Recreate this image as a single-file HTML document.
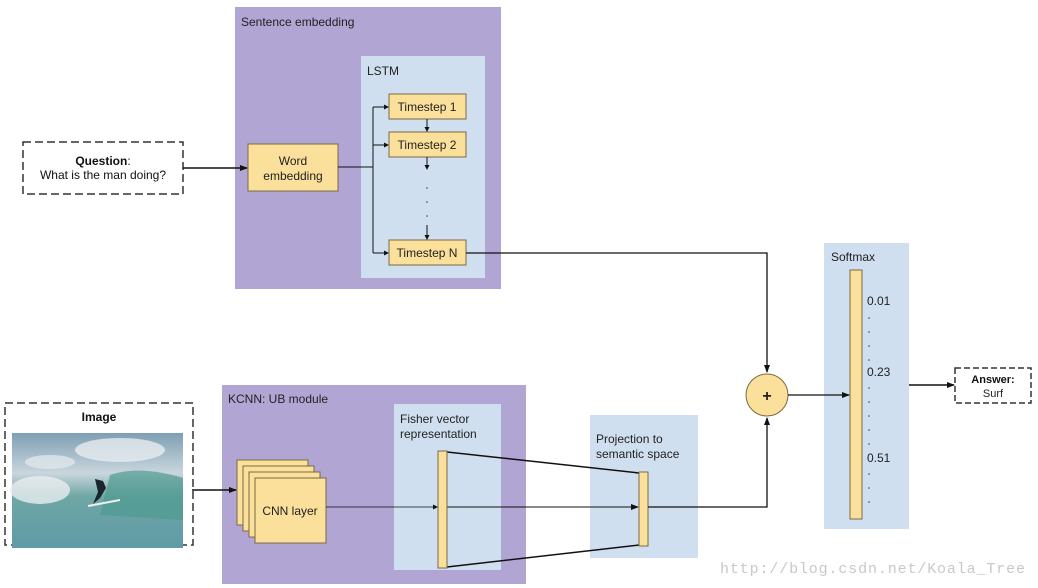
<!DOCTYPE html>
<html><head><meta charset="utf-8"><style>
html,body{margin:0;padding:0;background:#fff;}
svg{display:block;font-family:"Liberation Sans",sans-serif;}
</style></head><body>
<svg width="1038" height="588" viewBox="0 0 1038 588" xmlns="http://www.w3.org/2000/svg">
<defs>
<marker id="a" markerWidth="8" markerHeight="8" refX="7" refY="4" orient="auto" markerUnits="userSpaceOnUse"><path d="M0,1 L8,4 L0,7 z" fill="#111"/></marker>
<marker id="s" markerWidth="5" markerHeight="5" refX="4" refY="2.5" orient="auto" markerUnits="userSpaceOnUse"><path d="M0,0 L5,2.5 L0,5 z" fill="#111"/></marker>
<linearGradient id="sky" x1="0" y1="0" x2="0" y2="1"><stop offset="0" stop-color="#7f9fb4"/><stop offset="0.35" stop-color="#c9d6dd"/><stop offset="0.55" stop-color="#6fa7a5"/><stop offset="1" stop-color="#5f9aa6"/></linearGradient>
</defs>
<rect x="235" y="7" width="266" height="282" fill="#b1a5d3"/>
<text x="241" y="26" font-size="12" fill="#222">Sentence embedding</text>
<rect x="361" y="56" width="124" height="222" fill="#cfdfef"/>
<text x="367" y="75" font-size="12" fill="#222">LSTM</text>
<rect x="23" y="142" width="160" height="52" fill="#fff" stroke="#333" stroke-width="1.5" stroke-dasharray="8,4"/>
<text x="103" y="165" font-size="12" font-weight="bold" text-anchor="middle" fill="#111">Question<tspan font-weight="normal">:</tspan></text>
<text x="103" y="179" font-size="12" text-anchor="middle" fill="#111">What is the man doing?</text>
<line x1="183" y1="168" x2="247" y2="168" stroke="#111" stroke-width="1.5" marker-end="url(#a)"/>
<rect x="248" y="144" width="90" height="47" fill="#fbe09b" stroke="#7a6a40"/>
<text x="293" y="165" font-size="12" text-anchor="middle" fill="#222">Word</text>
<text x="293" y="180" font-size="12" text-anchor="middle" fill="#222">embedding</text>
<path d="M338,167 H373 M373,107 V253" stroke="#111" fill="none"/>
<line x1="373" y1="107" x2="388" y2="107" stroke="#111" marker-end="url(#s)"/>
<line x1="373" y1="145" x2="388" y2="145" stroke="#111" marker-end="url(#s)"/>
<line x1="373" y1="253" x2="388" y2="253" stroke="#111" marker-end="url(#s)"/>
<rect x="389" y="94" width="77" height="25" fill="#fbe09b" stroke="#7a6a40"/>
<text x="427" y="111" font-size="12" text-anchor="middle" fill="#222">Timestep 1</text>
<rect x="389" y="132" width="77" height="25" fill="#fbe09b" stroke="#7a6a40"/>
<text x="427" y="149" font-size="12" text-anchor="middle" fill="#222">Timestep 2</text>
<rect x="389" y="240" width="77" height="25" fill="#fbe09b" stroke="#7a6a40"/>
<text x="427" y="257" font-size="12" text-anchor="middle" fill="#222">Timestep N</text>
<line x1="427" y1="119" x2="427" y2="131" stroke="#111" marker-end="url(#s)"/>
<line x1="427" y1="157" x2="427" y2="169" stroke="#111" marker-end="url(#s)"/>
<line x1="427" y1="225" x2="427" y2="239" stroke="#111" marker-end="url(#s)"/>
<g fill="#444"><circle cx="427" cy="188" r="0.8"/><circle cx="427" cy="202" r="0.8"/><circle cx="427" cy="216" r="0.8"/></g>
<path d="M466,253 H767 V372" stroke="#111" stroke-width="1.3" fill="none" marker-end="url(#a)"/>
<rect x="5" y="403" width="188" height="142" fill="#fff" stroke="#333" stroke-width="1.5" stroke-dasharray="8,4"/>
<text x="99" y="421" font-size="12" font-weight="bold" text-anchor="middle" fill="#111">Image</text>
<rect x="12" y="433" width="171" height="115" fill="url(#sky)"/>
<ellipse cx="120" cy="450" rx="45" ry="12" fill="#e6ecef" opacity="0.8"/>
<ellipse cx="50" cy="462" rx="25" ry="7" fill="#dfe6ea" opacity="0.8"/>
<ellipse cx="40" cy="490" rx="30" ry="14" fill="#e8eef0" opacity="0.8"/>
<path d="M110,475 Q140,465 183,478 L183,520 L100,515 Z" fill="#4f9a92" opacity="0.7"/>
<path d="M95,479 L103,481 L106,488 L100,498 L93,504 L98,492 Z" fill="#1a2530"/>
<line x1="88" y1="506" x2="120" y2="500" stroke="#eee" stroke-width="2"/>
<rect x="222" y="385" width="304" height="199" fill="#b1a5d3"/>
<text x="228" y="403" font-size="12" fill="#222">KCNN: UB module</text>
<rect x="394" y="404" width="107" height="166" fill="#cfdfef"/>
<text x="400" y="423" font-size="12" fill="#222">Fisher vector</text>
<text x="400" y="438" font-size="12" fill="#222">representation</text>
<rect x="590" y="415" width="108" height="143" fill="#cfdfef"/>
<text x="596" y="443" font-size="12" fill="#222">Projection to</text>
<text x="596" y="458" font-size="12" fill="#222">semantic space</text>
<g fill="#fbe09b" stroke="#7a6a40">
<rect x="237" y="460" width="71" height="65"/>
<rect x="243" y="466" width="71" height="65"/>
<rect x="249" y="472" width="71" height="65"/>
<rect x="255" y="478" width="71" height="65"/>
</g>
<line x1="192" y1="490" x2="236" y2="490" stroke="#111" stroke-width="1.5" marker-end="url(#a)"/>
<text x="290" y="515" font-size="12" text-anchor="middle" fill="#222">CNN layer</text>
<line x1="326" y1="507" x2="437" y2="507" stroke="#111" stroke-width="0.8" marker-end="url(#s)"/>
<path d="M447,452 L639,473 M447,567 L639,545" stroke="#111" stroke-width="1.5" fill="none"/>
<line x1="447" y1="507" x2="638" y2="507" stroke="#111" stroke-width="1" marker-end="url(#a)"/>
<rect x="438" y="451" width="9" height="117" fill="#fbe09b" stroke="#7a6a40"/>
<rect x="639" y="472" width="9" height="74" fill="#fbe09b" stroke="#7a6a40"/>
<path d="M648,507 H767 V418" stroke="#111" stroke-width="1.3" fill="none" marker-end="url(#a)"/>
<circle cx="767" cy="395" r="21" fill="#fbe09b" stroke="#7a6a40"/>
<text x="767" y="401" font-size="16" font-weight="bold" text-anchor="middle" fill="#222">+</text>
<rect x="824" y="243" width="85" height="286" fill="#cfdfef"/>
<text x="831" y="261" font-size="12" fill="#222">Softmax</text>
<line x1="788" y1="395" x2="849" y2="395" stroke="#111" stroke-width="1.3" marker-end="url(#a)"/>
<rect x="850" y="270" width="12" height="249" fill="#fbe09b" stroke="#7a6a40"/>
<g font-size="12" fill="#222"><text x="867" y="305">0.01</text><text x="867" y="376">0.23</text><text x="867" y="462">0.51</text></g>
<g fill="#444">
<circle cx="869" cy="318" r="0.8"/><circle cx="869" cy="332" r="0.8"/><circle cx="869" cy="346" r="0.8"/><circle cx="869" cy="360" r="0.8"/>
<circle cx="869" cy="388" r="0.8"/><circle cx="869" cy="402" r="0.8"/><circle cx="869" cy="416" r="0.8"/><circle cx="869" cy="430" r="0.8"/><circle cx="869" cy="444" r="0.8"/>
<circle cx="869" cy="474" r="0.8"/><circle cx="869" cy="488" r="0.8"/><circle cx="869" cy="502" r="0.8"/>
</g>
<line x1="909" y1="385" x2="954" y2="385" stroke="#111" stroke-width="1.5" marker-end="url(#a)"/>
<rect x="955" y="368" width="76" height="35" fill="#fff" stroke="#333" stroke-width="1.5" stroke-dasharray="6,3"/>
<text x="993" y="383" font-size="11" font-weight="bold" text-anchor="middle" fill="#111">Answer:</text>
<text x="993" y="397" font-size="11" text-anchor="middle" fill="#222">Surf</text>
<text x="720" y="573" font-size="15" font-family="Liberation Mono, monospace" fill="#c8c8c8" textLength="305">http://blog.csdn.net/Koala_Tree</text>
</svg>
</body></html>
